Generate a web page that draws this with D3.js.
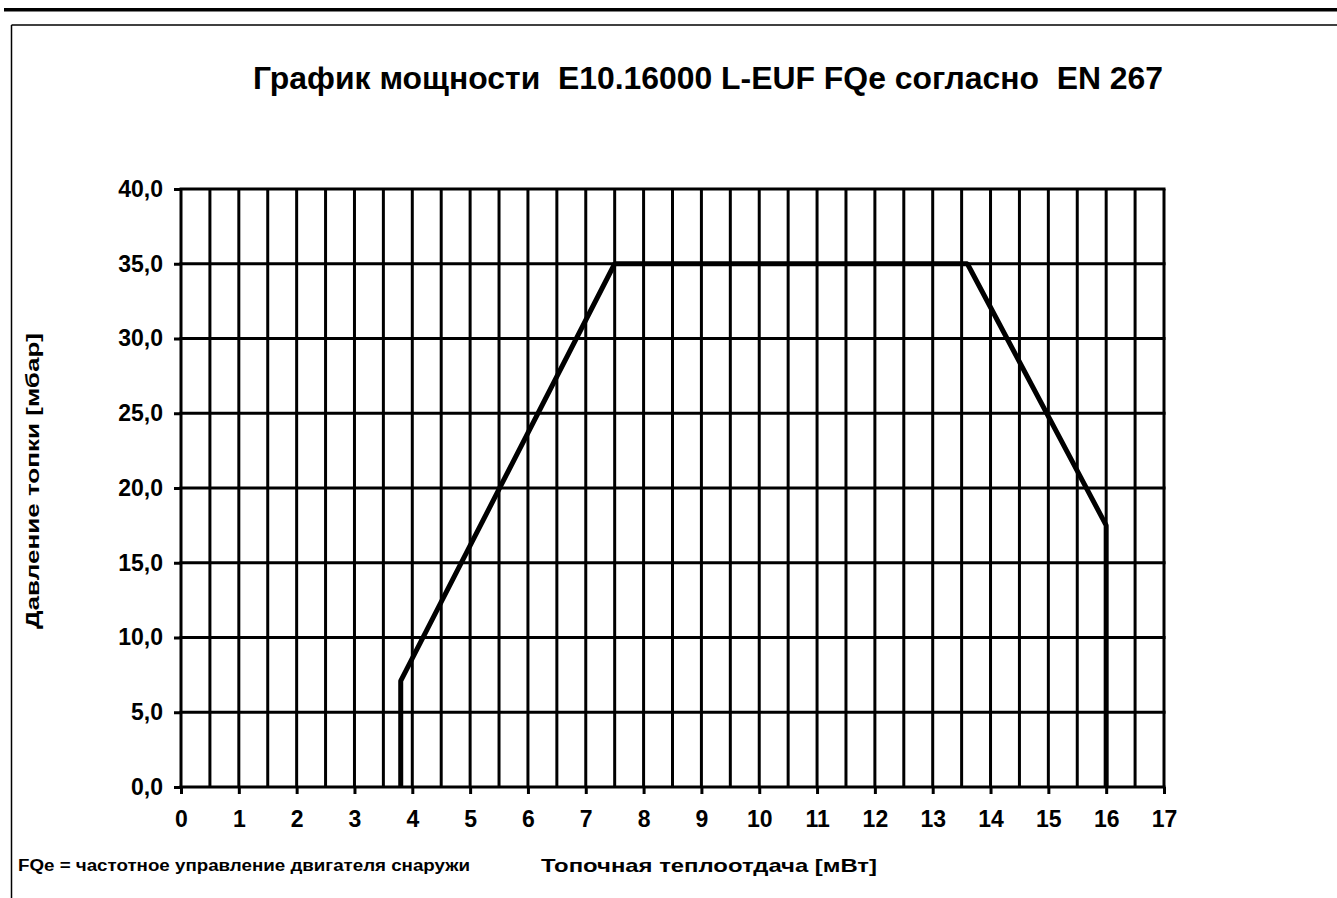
<!DOCTYPE html>
<html lang="ru">

<head>
    <meta charset="UTF-8">
    <title>График мощности</title>
    <script src="https://cdn.jsdelivr.net/npm/d3@7"></script>
    <style>
        * {
            margin: 0;
        }

        body {
            background: #fff;
        }

        text {
            font-family: "Liberation Sans", Arial, sans-serif;
            font-weight: bold;
            fill: #000;
        }
    </style>
</head>

<body>
    <svg id="chart" width="1337" height="898"></svg>
    <script>
        // данные
        var xTicks = [0, 1, 2, 3, 4, 5, 6, 7, 8, 9, 10, 11, 12, 13, 14, 15, 16, 17];
        var yTicks = [0, 5, 10, 15, 20, 25, 30, 35, 40];
        var powerMW = [3.8, 3.8, 7.5, 13.6, 16, 16];
        var pressureMbar = [0, 7.1, 35, 35, 17.5, 0];

        var titleText = "График мощности  E10.16000 L-EUF FQe согласно  EN 267";
        var xTitle = "Топочная теплоотдача [мВт]";
        var yTitle = "Давление топки [мбар]";
        var note = "FQe = частотное управление двигателя снаружи";

        var svg = d3.select("#chart");

        var pLeft = 181, pRight = 1164, pTop = 189, pBottom = 787;

        var x = d3.scaleLinear().domain([0, 17]).range([pLeft, pRight]);
        var y = d3.scaleLinear().domain([0, 40]).range([pBottom, pTop]);

        // рамка страницы
        svg.append("rect").attr("x", 4).attr("y", 8).attr("width", 1333).attr("height", 3.5).attr("fill", "#000");
        svg.append("line").attr("x1", 11.5).attr("x2", 1337).attr("y1", 25).attr("y2", 25)
            .attr("stroke", "#000").attr("stroke-width", 1.5);
        svg.append("line").attr("x1", 11.5).attr("x2", 11.5).attr("y1", 25).attr("y2", 898)
            .attr("stroke", "#000").attr("stroke-width", 1.5);

        // сетка: вертикальные линии каждые 0.5
        var xGrid = d3.range(0, 17.01, 0.5);
        svg.append("g").selectAll("line").data(xGrid).enter().append("line")
            .attr("x1", function (d) { return x(d); })
            .attr("x2", function (d) { return x(d); })
            .attr("y1", y(40))
            .attr("y2", y(0))
            .attr("stroke", "#000")
            .attr("stroke-width", 3);

        svg.append("g").selectAll("line").data(yTicks).enter().append("line")
            .attr("x1", x(0) - 1.5)
            .attr("x2", x(17) + 1.5)
            .attr("y1", function (d) { return y(d); })
            .attr("y2", function (d) { return y(d); })
            .attr("stroke", "#000")
            .attr("stroke-width", 3);

        // оси
        var xAxis = d3.axisBottom(x).tickValues(xTicks).tickSize(7).tickPadding(17)
            .tickFormat(function (d) { return d; });
        var gx = svg.append("g").attr("transform", "translate(0," + pBottom + ")").call(xAxis);
        gx.select(".domain").remove();
        gx.selectAll("line").attr("stroke", "#000").attr("stroke-width", 3);
        gx.selectAll("text").style("font-size", "23px").style("font-family", "'Liberation Sans', Arial, sans-serif")
            .style("font-weight", "bold");

        var yAxis = d3.axisLeft(y).tickValues(yTicks).tickSize(7).tickPadding(11)
            .tickFormat(function (d) { return d3.format(".1f")(d).replace(".", ","); });
        var gy = svg.append("g").attr("transform", "translate(" + pLeft + ",0)").call(yAxis);
        gy.select(".domain").remove();
        gy.selectAll("line").attr("stroke", "#000").attr("stroke-width", 3);
        gy.selectAll("text").style("font-size", "23px").style("font-family", "'Liberation Sans', Arial, sans-serif")
            .style("font-weight", "bold");

        // кривая мощности
        var pts = powerMW.map(function (d, i) { return [d, pressureMbar[i]]; });
        var line = d3.line()
            .x(function (d) { return x(d[0]); })
            .y(function (d) { return y(d[1]); });
        svg.append("path")
            .datum(pts)
            .attr("d", line)
            .attr("fill", "none")
            .attr("stroke", "#000")
            .attr("stroke-width", 5)
            .attr("stroke-linejoin", "bevel");

        // подписи
        svg.append("text").attr("x", 708).attr("y", 89).attr("text-anchor", "middle")
            .style("font-size", "31px").style("white-space", "pre")
            .attr("textLength", 910).attr("lengthAdjust", "spacingAndGlyphs")
            .text(titleText);

        svg.append("text").attr("x", 709).attr("y", 872).attr("text-anchor", "middle")
            .style("font-size", "19px")
            .attr("textLength", 336).attr("lengthAdjust", "spacingAndGlyphs")
            .text(xTitle);

        svg.append("text").attr("transform", "translate(39,481) rotate(-90)").attr("text-anchor", "middle")
            .style("font-size", "18px")
            .attr("textLength", 296).attr("lengthAdjust", "spacingAndGlyphs")
            .text(yTitle);

        svg.append("text").attr("x", 18).attr("y", 871)
            .style("font-size", "16px")
            .attr("textLength", 452).attr("lengthAdjust", "spacingAndGlyphs")
            .text(note);
    </script>
</body>

</html>
